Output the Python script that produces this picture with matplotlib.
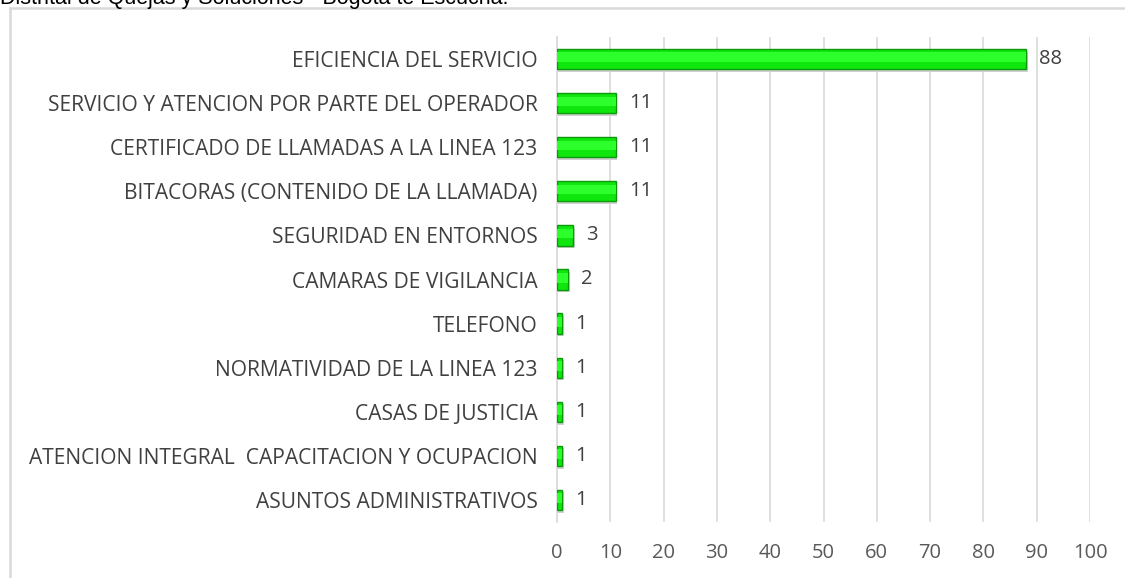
import matplotlib.pyplot as plt
from matplotlib.lines import Line2D

categorias = ['EFICIENCIA DEL SERVICIO',
              'SERVICIO Y ATENCION POR PARTE DEL OPERADOR',
              'CERTIFICADO DE LLAMADAS A LA LINEA 123',
              'BITACORAS (CONTENIDO DE LA LLAMADA)',
              'SEGURIDAD EN ENTORNOS',
              'CAMARAS DE VIGILANCIA',
              'TELEFONO',
              'NORMATIVIDAD DE LA LINEA 123',
              'CASAS DE JUSTICIA',
              'ATENCION INTEGRAL  CAPACITACION Y OCUPACION',
              'ASUNTOS ADMINISTRATIVOS']
valores = [88, 11, 11, 11, 3, 2, 1, 1, 1, 1, 1]
ticks_x = list(range(0, 101, 10))

fuente = ['Open Sans', 'DejaVu Sans']
plt.rcParams['font.family'] = fuente

W, H = 1125, 578
fig = plt.figure(figsize=(W / 100, H / 100), dpi=100)
ax = fig.add_axes([557 / W, 1 - 522 / H, (1090 - 557) / W, (522 - 37) / H])

pos = list(range(len(categorias)))
# sombra
ax.barh([p + 0.06 for p in pos], [v + 0.35 for v in valores], height=0.46,
        color='#cfcfcf', zorder=2)
ax.barh(pos, valores, height=0.46, color='#0ee60e', edgecolor='#0a9a0a',
        linewidth=1.0, zorder=3)
# brillo en el centro de la barra
ax.barh([p - 0.04 for p in pos], valores, height=0.22, color='#2cff2c',
        linewidth=0, zorder=4)

for p, v in zip(pos, valores):
    ax.text(v + 2.5, p, str(v), va='center', ha='left', fontsize=14.5,
            color='#404040')

ax.set_xlim(0, 100)
ax.set_ylim(len(categorias) - 0.5, -0.5)
ax.set_xticks(ticks_x)
ax.set_yticks(pos)
ax.set_yticklabels(categorias)
ax.tick_params(axis='y', length=0, pad=14, labelsize=15.1, labelcolor='#404040')
ax.tick_params(axis='x', length=0, pad=15, labelsize=14.5, labelcolor='#595959')
ax.grid(axis='x', color='#d9d9d9', linewidth=1.2, zorder=0)
ax.set_axisbelow(True)
for s in ['top', 'right', 'bottom']:
    ax.spines[s].set_visible(False)
ax.spines['left'].set_color('#d9d9d9')
ax.spines['left'].set_linewidth(1.2)

# borde del cuadro del grafico
fig.add_artist(Line2D([9.5 / W, 1], [1 - 7.5 / H, 1 - 7.5 / H], color='#d9d9d9',
                      linewidth=1.8, transform=fig.transFigure))
fig.add_artist(Line2D([9.5 / W, 9.5 / W], [0, 1 - 7.5 / H], color='#d9d9d9',
                      linewidth=1.8, transform=fig.transFigure))

# titulo de arriba, cortado por el borde como en el original
fig.text(0.0, 1 - 4 / H, 'Distrital de Quejas y Soluciones - Bogotá te Escucha.',
         fontsize=15.5, family=['Liberation Sans', 'DejaVu Sans'], color='black',
         va='baseline', ha='left')

fig.savefig('out.png', dpi=100)
